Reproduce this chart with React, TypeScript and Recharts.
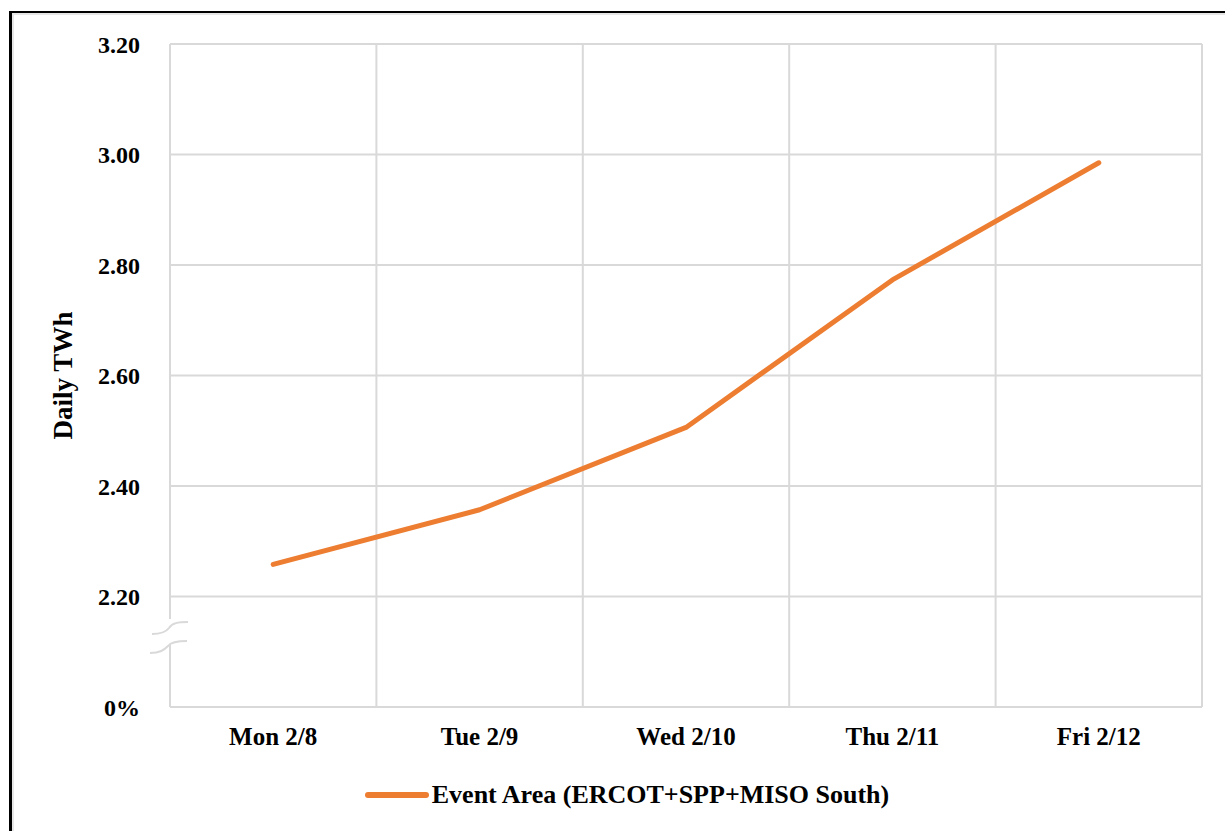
import { LineChart, Line, XAxis, YAxis, CartesianGrid, Legend } from 'recharts';

// daily energy
const days = ['Mon 2/8', 'Tue 2/9', 'Wed 2/10', 'Thu 2/11', 'Fri 2/12'];
const eventArea = [2.258, 2.357, 2.506, 2.773, 2.985];
const yTicks = [2.0, 2.2, 2.4, 2.6, 2.8, 3.0, 3.2];

const seriesName = 'Event Area (ERCOT+SPP+MISO South)';
const ORANGE = '#ED7D31';
const GRID = '#d9d9d9';
const FONT = "'Liberation Serif', 'Times New Roman', serif";

const data = days.map((day, i) => ({ day, event: eventArea[i] }));

const LegendContent = () => (
  <div
    style={{
      display: 'flex',
      alignItems: 'center',
      justifyContent: 'center',
      height: 50,
      paddingLeft: 28,
      fontFamily: FONT,
      fontWeight: 'bold',
      fontSize: 26,
      color: '#000',
    }}
  >
    <svg width={66} height={10} style={{ marginRight: 2 }}>
      <line x1={4} y1={5} x2={62} y2={5} stroke={ORANGE} strokeWidth={6} strokeLinecap="round" />
    </svg>
    <span>{seriesName}</span>
  </div>
);

const YLabel = (props: any) => {
  const vb = props.viewBox || { x: 0, y: 0, width: 0, height: 0 };
  const cx = vb.x + 63;
  const cy = vb.y + vb.height / 2;
  return (
    <text
      x={cx}
      y={cy}
      transform={`rotate(-90, ${cx}, ${cy})`}
      textAnchor="middle"
      dominantBaseline="central"
      fontFamily={FONT}
      fontWeight="bold"
      fontSize={27}
      fill="#000"
    >
      Daily TWh
    </text>
  );
};

export default function App() {
  return (
    <div style={{ position: 'fixed', left: 0, top: 0, width: 1225, height: 831, background: '#fff', overflow: 'hidden' }}>
      {/* outer frame, cut off at the right and bottom like in the source */}
      <div
        style={{
          position: 'absolute',
          left: 9,
          top: 11,
          width: 1240,
          height: 840,
          borderLeft: '3px solid #000',
          borderTop: '2px solid #000',
          boxShadow: 'inset 2px 2px 0 #e6e6e6',
        }}
      />
      <div style={{ position: 'absolute', left: 0, top: 0 }}>
        <LineChart width={1225} height={831} data={data} margin={{ top: 44, right: 23, left: 0, bottom: 11 }}>
          <CartesianGrid
            stroke={GRID}
            strokeWidth={2}
            verticalCoordinatesGenerator={({ offset }: any) =>
              days.map((_, i) => offset.left + (i * offset.width) / days.length).concat(offset.left + offset.width)
            }
          />
          <XAxis
            dataKey="day"
            scale="band"
            height={63}
            tickLine={false}
            tickSize={0}
            tickMargin={20}
            axisLine={{ stroke: GRID, strokeWidth: 2 }}
            tick={{ fill: '#000', fontFamily: FONT, fontWeight: 'bold', fontSize: 25 }}
            interval={0}
          />
          <YAxis
            type="number"
            domain={[2.0, 3.2]}
            ticks={yTicks}
            interval={0}
            width={170}
            axisLine={false}
            tickLine={false}
            tickSize={0}
            tickMargin={30}
            tickFormatter={(v: number) => (v === 2 ? '0%' : v.toFixed(2))}
            tick={{ fill: '#000', fontFamily: FONT, fontWeight: 'bold', fontSize: 24 }}
            label={YLabel}
          />
          <Legend verticalAlign="bottom" wrapperStyle={{ left: 0, width: 1225, height: 50 }} content={LegendContent} />
          <Line
            type="linear"
            dataKey="event"
            name={seriesName}
            stroke={ORANGE}
            strokeWidth={5}
            strokeLinecap="round"
            strokeLinejoin="round"
            dot={false}
            activeDot={false}
            isAnimationActive={false}
          />
        </LineChart>
      </div>
      {/* axis break between 2.20 and 0% */}
      <svg width={1225} height={831} style={{ position: 'absolute', left: 0, top: 0, pointerEvents: 'none' }}>
        <rect x={160} y={619} width={20} height={26} fill="#fff" />
        <path d="M152 634 C162 634 166 632 169 628 C172 623 178 622 188 622" fill="none" stroke={GRID} strokeWidth={2} />
        <path d="M150 653 C160 653 164 650 168 646 C171 642 177 641 187 641" fill="none" stroke={GRID} strokeWidth={2} />
      </svg>
    </div>
  );
}
